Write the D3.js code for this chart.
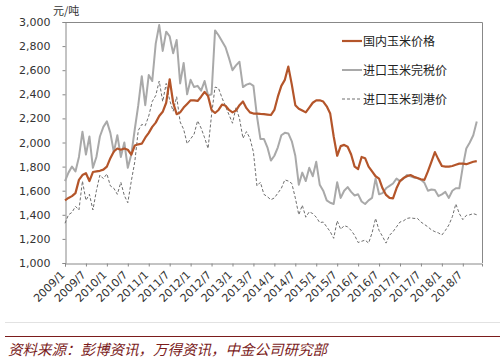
<!DOCTYPE html>
<html>
<head>
<meta charset="utf-8">
<script src="https://cdn.jsdelivr.net/npm/d3@7"></script>
<style>
  body { margin: 0; background: #fff; }
  svg { display: block; }
</style>
</head>
<body>
<svg id="chart" width="500" height="360"></svg>
<script>
// monthly values, 2009/1 .. 2018/11 (元/吨)
var domestic = [1520,1540,1555,1580,1690,1730,1745,1680,1755,1760,1765,1775,
  1800,1870,1925,1950,1940,1950,1940,1900,1975,1985,1990,2040,
  2080,2130,2165,2220,2255,2330,2525,2330,2235,2250,2290,2320,
  2350,2350,2345,2380,2420,2385,2270,2245,2270,2315,2305,2270,
  2250,2265,2310,2340,2285,2250,2240,2240,2237,2235,2232,2228,
  2270,2380,2470,2520,2630,2480,2310,2280,2265,2250,2290,2330,
  2350,2350,2340,2300,2240,2050,1890,1970,1980,1965,1900,1800,
  1780,1880,1870,1800,1760,1720,1700,1620,1565,1540,1537,1620,
  1680,1705,1720,1730,1715,1705,1695,1690,1760,1840,1920,1860,
  1805,1800,1800,1805,1815,1825,1825,1820,1830,1840,1846];

var dutyPaid = [1680,1750,1800,1760,1880,2090,1900,2050,1790,1880,2050,2130,
  2175,2080,1920,2060,1880,2000,1790,1900,2110,2310,2550,2310,
  2560,2510,2820,2975,2760,2920,2880,2740,2850,2490,2660,2400,
  2520,2460,2470,2430,2510,2390,2400,2930,2890,2840,2790,2700,
  2600,2640,2670,2460,2480,2490,2470,2220,2030,2030,1960,1850,
  1890,1960,2060,2080,2075,2010,1890,1650,1750,1680,1790,1720,
  1840,1650,1600,1520,1500,1490,1670,1540,1600,1630,1590,1560,
  1570,1510,1490,1520,1540,1700,1570,1580,1620,1640,1660,1700,
  1680,1700,1730,1720,1710,1705,1690,1665,1600,1610,1605,1555,
  1570,1590,1540,1600,1620,1620,1800,1950,2000,2060,2175];

var arrival = [1330,1400,1420,1470,1440,1680,1520,1570,1440,1600,1730,1700,
  1740,1640,1620,1570,1670,1560,1500,1680,1840,2100,2150,2140,
  2220,2340,2390,2510,2340,2490,2350,2260,2380,2170,2110,1990,
  2030,2070,2180,2120,2040,1950,2230,2460,2450,2370,2300,2230,
  2160,2290,2200,2035,2090,2035,1920,1640,1670,1570,1550,1525,
  1540,1580,1620,1690,1680,1660,1540,1400,1480,1380,1425,1410,
  1380,1335,1340,1300,1260,1205,1350,1280,1310,1300,1270,1230,
  1170,1180,1190,1165,1250,1370,1270,1220,1165,1230,1260,1300,
  1340,1350,1370,1375,1370,1370,1340,1320,1300,1275,1260,1250,
  1232,1270,1315,1384,1490,1410,1360,1395,1400,1410,1400];

var xLabels = ["2009/1","2009/7","2010/1","2010/7","2011/1","2011/7","2012/1","2012/7",
  "2013/1","2013/7","2014/1","2014/7","2015/1","2015/7","2016/1","2016/7",
  "2017/1","2017/7","2018/1","2018/7"];
var yTicks = [1000,1200,1400,1600,1800,2000,2200,2400,2600,2800,3000];
var seriesNames = ["国内玉米价格","进口玉米完税价","进口玉米到港价"];

var pLeft = 65, pRight = 482, pTop = 22, pBottom = 263;
var svg = d3.select("#chart");
var font = "'DejaVu Sans', Verdana, sans-serif";
var cjk = "'Noto Sans CJK SC', sans-serif";

var x = d3.scaleLinear().domain([0, 119.5]).range([pLeft, pRight]);
var y = d3.scaleLinear().domain([1000, 3000]).range([pBottom, pTop]);

// frame (top + right)
svg.append("path")
  .attr("d", "M" + pLeft + "," + (pTop + 0.5) + "H" + (pRight + 0.5) + "V" + pBottom)
  .attr("fill", "none").attr("stroke", "#888").attr("stroke-width", 1);

var yAxis = svg.append("g")
  .attr("transform", "translate(" + (pLeft + 0.5) + ",0)")
  .call(d3.axisLeft(y).tickValues(yTicks).tickSize(3).tickPadding(12)
        .tickFormat(d3.format(",")));
var xAxis = svg.append("g")
  .attr("transform", "translate(0," + (pBottom + 0.5) + ")")
  .call(d3.axisBottom(x).tickValues(d3.range(0, 120, 6)).tickSize(3)
        .tickFormat(function(d, i) { return xLabels[i]; }));

[yAxis, xAxis].forEach(function(g) {
  g.select(".domain").attr("stroke", "#888");
  g.selectAll(".tick line").attr("stroke", "#888");
  g.selectAll("text").attr("fill", "#333").style("font", "11px " + font);
});
xAxis.selectAll("text")
  .attr("text-anchor", "end")
  .attr("dy", null).attr("y", null)
  .attr("transform", "translate(0,12) rotate(-45)");

svg.append("text").attr("x", 53).attr("y", 15)
  .attr("fill", "#333").style("font", "11px " + cjk).text("元/吨");

var line = d3.line()
  .x(function(d, i) { return x(i); })
  .y(function(d) { return y(d); });

svg.append("path").datum(arrival).attr("d", line)
  .attr("fill", "none").attr("stroke", "#6e6e6e").attr("stroke-width", 1)
  .attr("stroke-dasharray", "3,2");
svg.append("path").datum(dutyPaid).attr("d", line)
  .attr("fill", "none").attr("stroke", "#a9a9a9").attr("stroke-width", 2)
  .attr("stroke-linejoin", "round");
svg.append("path").datum(domestic).attr("d", line)
  .attr("fill", "none").attr("stroke", "#b4552a").attr("stroke-width", 2.2)
  .attr("stroke-linejoin", "round");

// legend
var legendStyles = [
  {stroke: "#b4552a", width: 2.2, dash: null},
  {stroke: "#a9a9a9", width: 2, dash: null},
  {stroke: "#6e6e6e", width: 1, dash: "3,2"}
];
var legend = svg.append("g").selectAll("g")
  .data(seriesNames).enter().append("g")
  .attr("transform", function(d, i) { return "translate(342," + (41 + i * 29) + ")"; });
legend.append("line").attr("x1", 0).attr("x2", 20).attr("y1", 0).attr("y2", 0)
  .attr("stroke", function(d, i) { return legendStyles[i].stroke; })
  .attr("stroke-width", function(d, i) { return legendStyles[i].width; })
  .attr("stroke-dasharray", function(d, i) { return legendStyles[i].dash; });
legend.append("text").attr("x", 21).attr("y", 4.5)
  .attr("fill", "#222").style("font", "12px " + cjk)
  .text(function(d) { return d; });

// footer
svg.append("line").attr("x1", 5).attr("x2", 500).attr("y1", 322.5).attr("y2", 322.5)
  .attr("stroke", "#e2e2e2");
svg.append("line").attr("x1", 5).attr("x2", 500).attr("y1", 336.5).attr("y2", 336.5)
  .attr("stroke", "#7b1c1c");
svg.append("text").attr("x", 8).attr("y", 355)
  .attr("fill", "#7b1c1c").style("font", "italic 14.5px " + cjk)
  .text("资料来源：彭博资讯，万得资讯，中金公司研究部");
</script>
</body>
</html>
